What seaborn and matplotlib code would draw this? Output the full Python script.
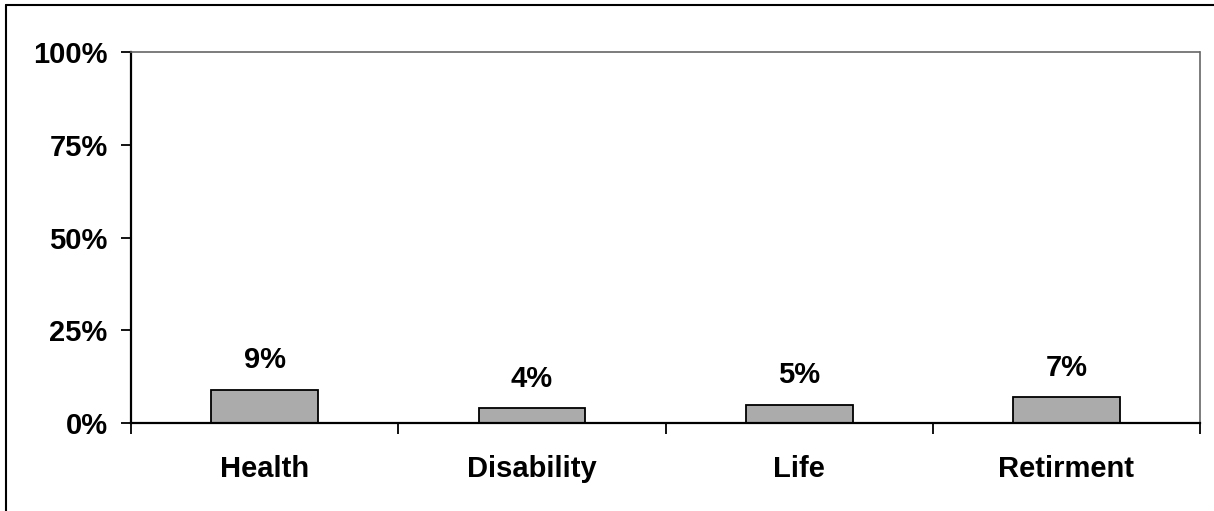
import matplotlib
matplotlib.use("Agg")
import matplotlib.pyplot as plt
import seaborn as sns
import pandas as pd
from matplotlib.lines import Line2D
from matplotlib.ticker import FixedLocator, FuncFormatter

categories = ["Health", "Disability", "Life", "Retirment"]
values = [9, 4, 5, 7]
y_ticks = [0, 25, 50, 75, 100]

sns.set_style("white")
plt.rcParams["font.family"] = ["Liberation Sans", "DejaVu Sans"]
plt.rcParams["font.weight"] = "bold"
plt.rcParams["text.color"] = "black"
plt.rcParams["xtick.color"] = "black"
plt.rcParams["ytick.color"] = "black"

FS = 21

df = pd.DataFrame({"category": categories, "value": values})

fig = plt.figure(figsize=(12.14, 5.11), dpi=100)
ax = fig.add_axes([0.108, 0.172, 0.8805, 0.726])

sns.barplot(data=df, x="category", y="value", ax=ax, width=0.4,
            color="#ababab", edgecolor="black", linewidth=1.3, saturation=1)

ax.set_ylim(0, 100)
ax.set_xlim(-0.5, len(categories) - 0.5)
ax.set_xlabel("")
ax.set_ylabel("")

# y axis
ax.yaxis.set_major_locator(FixedLocator(y_ticks))
ax.yaxis.set_major_formatter(FuncFormatter(lambda v, p: f"{int(v)}%"))
ax.tick_params(axis="y", which="major", direction="out", length=7, width=1.3,
               labelsize=FS, pad=10, left=True, labelcolor="black")

# x axis: ticks on category boundaries, labels centred under bars
ax.xaxis.set_major_locator(FixedLocator([i - 0.5 for i in range(len(categories) + 1)]))
ax.xaxis.set_major_formatter(FuncFormatter(lambda v, p: ""))
ax.xaxis.set_minor_locator(FixedLocator(list(range(len(categories)))))
ax.set_xticklabels(categories, minor=True)
ax.tick_params(axis="x", which="major", direction="out", length=8, width=1.3, bottom=True)
ax.tick_params(axis="x", which="minor", length=0, labelsize=FS, pad=23, labelcolor="black")

for lbl in ax.get_xticklabels(minor=True) + ax.get_yticklabels():
    lbl.set_fontweight("bold")

# spines
for side in ["left", "bottom"]:
    ax.spines[side].set_visible(True)
    ax.spines[side].set_color("black")
    ax.spines[side].set_linewidth(1.6)
for side in ["top", "right"]:
    ax.spines[side].set_visible(True)
    ax.spines[side].set_color("#666666")
    ax.spines[side].set_linewidth(1.2)
    ax.spines[side].set_linestyle((0, (1, 1)))

# value labels
for i, v in enumerate(values):
    ax.annotate(f"{v}%", xy=(i, v), xytext=(0, 11), textcoords="offset points",
                ha="center", va="bottom", fontsize=FS, fontweight="bold", color="black")

# outer frame lines
fig.add_artist(Line2D([0.005, 0.005], [0.0, 0.99], transform=fig.transFigure,
                      color="black", linewidth=1.5))
fig.add_artist(Line2D([0.005, 1.0], [0.99, 0.99], transform=fig.transFigure,
                      color="black", linewidth=1.5))

fig.savefig("out.png", dpi=100, facecolor="white")
